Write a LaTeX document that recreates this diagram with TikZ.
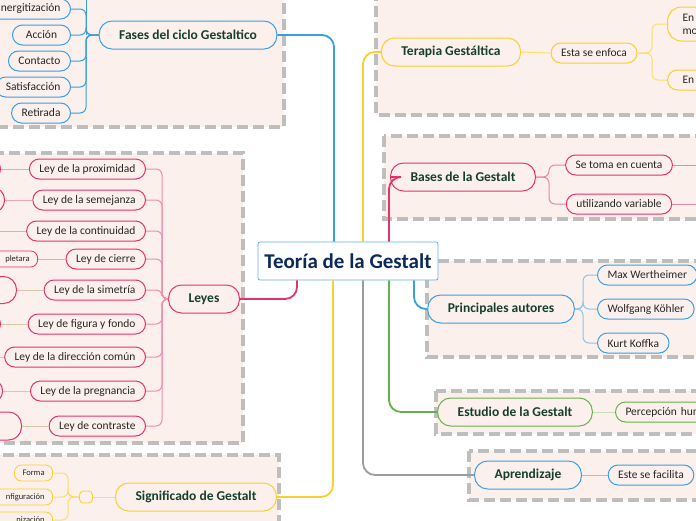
\documentclass[tikz,border=0pt]{standalone}
\usepackage{fontspec}
\setmainfont{Carlito}
\usetikzlibrary{positioning}
\definecolor{fondo}{HTML}{FCF0EC}
\definecolor{gris}{HTML}{BEBEBE}
\definecolor{azul}{HTML}{3A9EE4}
\definecolor{amarillo}{HTML}{F8D030}
\definecolor{rosa}{HTML}{E2336B}
\definecolor{beige}{HTML}{D9C6AB}
\definecolor{verde}{HTML}{67B04D}
\definecolor{grislinea}{HTML}{9C9C9C}
\definecolor{tinta}{HTML}{153F2C}
\definecolor{marino}{HTML}{0B2A57}
\tikzset{
  grupo/.style={draw=gris, fill=fondo, line width=3.5pt, dash pattern=on 11pt off 5pt},
  centro/.style={draw=azul!80, fill=white, rounded corners=2pt, line width=0.8pt, minimum width=180pt, minimum height=38pt, inner xsep=4pt, text=marino, font=\fontsize{21}{23}\selectfont\bfseries},
  tema/.style={draw=#1, fill=fondo, rounded corners=13pt, line width=1pt, minimum height=28pt, inner xsep=20pt, text=tinta, font=\fontsize{13.5}{15}\selectfont\bfseries},
  idea/.style={draw=#1, fill=fondo, rounded corners=10pt, line width=1pt, minimum height=20pt, inner xsep=10pt, inner ysep=2pt, text=black!85, font=\fontsize{11.5}{13}\selectfont},
  mini/.style={draw=#1, fill=fondo, rounded corners=7pt, line width=0.8pt, minimum height=16pt, inner xsep=8pt, inner ysep=1pt, text=black!85, font=\fontsize{8.5}{10}\selectfont},
  rama/.style={draw=#1, line width=1pt, rounded corners=6pt},
  tronco/.style={draw=#1, line width=1.8pt, rounded corners=12pt}
}
\begin{document}
\begin{tikzpicture}[x=1pt,y=-1pt]
\useasboundingbox (0,0) rectangle (696,520);
\clip (0,0) rectangle (696,520);
% marcos
\draw[grupo] (-10,-10) rectangle (284,127);
\draw[grupo] (376,-10) rectangle (710,115);
\draw[grupo] (384,136) rectangle (710,219);
\draw[grupo] (-10,153) rectangle (243,443);
\draw[grupo] (427,261) rectangle (710,357);
\draw[grupo] (436,391) rectangle (710,434);
\draw[grupo] (469,451) rectangle (710,500);
\draw[grupo] (-10,455) rectangle (279,530);
% centro
\node[centro] (teoria) at (348,261) {Teoría de la Gestalt};
% fases del ciclo
\node[tema=azul] (fases) at (188,35) {Fases del ciclo Gestaltico};
\node[idea=azul, anchor=east, text width=80pt, align=right] (energ) at (71,9) {nergitización};
\node[idea=azul, anchor=east, minimum width=58pt] (accion) at (71,35) {Acción};
\node[idea=azul, anchor=east, minimum width=58pt] (contacto) at (71,61) {Contacto};
\node[idea=azul, anchor=east, minimum width=58pt] (satisf) at (71,87) {Satisfacción};
\node[idea=azul, anchor=east, minimum width=58pt] (retirada) at (71,113) {Retirada};
\coordinate (fasesb) at (86,35);
\coordinate (fasesarriba) at (86,-10);
\draw[rama=azul] (fasesb) -- (fasesarriba);
\foreach \n in {energ,accion,contacto,satisf,retirada}
  \draw[rama=azul] (fases.west) -- (fasesb) |- (\n.east);
\draw[tronco=azul] (fases.east) -| ([xshift=-14pt]teoria.north);
% terapia
\node[tema=amarillo] (terapia) at (451,52) {Terapia Gestáltica};
\node[idea=amarillo] (enfoca) at (594,53) {Esta se enfoca};
\node[idea=amarillo, anchor=west, text width=60pt, align=left, inner xsep=15pt, minimum height=34pt, rounded corners=14pt] (enfocauno) at (667,24) {En\\mo};
\node[idea=amarillo, anchor=west, text width=60pt, align=left, inner xsep=15pt] (enfocados) at (667,80) {En l};
\coordinate (enfocab) at (652,53);
\draw[tronco=amarillo] ([xshift=15pt]teoria.north) |- (terapia.west);
\draw[rama=amarillo!70] (terapia.east) -- (enfoca.west);
\foreach \n in {enfocauno,enfocados}
  \draw[rama=amarillo!70] (enfoca.east) -- (enfocab) |- (\n.west);
% bases
\node[tema=rosa] (bases) at (463,177) {Bases de la Gestalt};
\node[idea=rosa] (cuenta) at (619,165) {Se toma en cuenta};
\node[idea=rosa] (variable) at (619,204) {utilizando variable};
\coordinate (basesb) at (549,177);
\coordinate (cuentafin) at (700,165);
\coordinate (variablefin) at (700,204);
\draw[tronco=rosa] ([xshift=41pt]teoria.north) |- (bases.west);
\foreach \n in {cuenta,variable}
  \draw[rama=rosa!60] (bases.east) -- (basesb) |- (\n.west);
\draw[rama=rosa!60] (cuenta.east) -- (cuentafin);
\draw[rama=rosa!60] (variable.east) -- (variablefin);
% leyes
\node[tema=rosa] (leyes) at (204,299) {Leyes};
\node[idea=rosa, anchor=east] (prox) at (146,169) {Ley de la proximidad};
\node[idea=rosa, anchor=east] (seme) at (146,200) {Ley de la semejanza};
\node[idea=rosa, anchor=east] (cont) at (146,231) {Ley de la continuidad};
\node[idea=rosa, anchor=east] (cierre) at (146,259) {Ley de cierre};
\node[idea=rosa, anchor=east] (sime) at (146,290) {Ley de la simetría};
\node[idea=rosa, anchor=east] (figura) at (146,324) {Ley de figura y fondo};
\node[idea=rosa, anchor=east] (direc) at (146,357) {Ley de la dirección común};
\node[idea=rosa, anchor=east] (pregn) at (146,391) {Ley de la pregnancia};
\node[idea=rosa, anchor=east] (contr) at (146,426) {Ley de contraste};
\node[idea=rosa, anchor=east, minimum width=60pt] (proxb) at (1,169) {};
\node[idea=rosa, anchor=east, minimum width=60pt, minimum height=25pt, rounded corners=12pt] (semeb) at (5,200) {};
\node[idea=rosa, anchor=east, minimum width=60pt] (contb) at (-2,231) {};
\node[mini=rosa, anchor=east, text width=40pt, align=right] (cierreb) at (38,259) {pletara};
\node[idea=rosa, anchor=east, minimum width=60pt, minimum height=27pt, rounded corners=13pt] (simeb) at (17,290) {};
\node[idea=rosa, anchor=east, minimum width=60pt] (figurab) at (1,324) {};
\node[idea=rosa, anchor=east, minimum width=60pt] (direcb) at (-2,357) {};
\node[idea=rosa, anchor=east, minimum width=60pt, minimum height=23pt, rounded corners=11pt] (pregnb) at (3,391) {};
\node[idea=rosa, anchor=east, minimum width=60pt, minimum height=28pt, rounded corners=13pt] (contrb) at (22,426) {};
\coordinate (leyesb) at (162,299);
\draw[tronco=rosa] ([xshift=-51pt]teoria.south) |- (leyes.east);
\foreach \n in {prox,seme,cont,cierre,sime,figura,direc,pregn,contr}
  \draw[rama=rosa!55] (leyes.west) -- (leyesb) |- (\n.east);
\foreach \n in {prox,seme,cont,cierre}
  \draw[rama=rosa!45] (\n.west) -- (\n b.east);
\foreach \n in {sime,figura,direc,pregn,contr}
  \draw[rama=beige] (\n.west) -- (\n b.east);
% significado
\node[tema=amarillo] (signif) at (196,497) {Significado de Gestalt};
\node[draw=amarillo, fill=fondo, line width=0.8pt, rounded corners=4pt, minimum width=13pt, minimum height=12pt, inner sep=0pt] (nudo) at (86,497) {};
\node[mini=amarillo, anchor=east] (forma) at (53,473) {Forma};
\node[mini=amarillo, anchor=east, text width=60pt, align=right] (config) at (53,497) {nfiguración};
\node[mini=amarillo, anchor=east, text width=60pt, align=right] (organiz) at (53,520) {nización};
\coordinate (nudob) at (68,497);
\draw[tronco=amarillo] ([xshift=-15pt]teoria.south) |- (signif.east);
\draw[rama=amarillo!70] (signif.west) -- (nudo.east);
\foreach \n in {forma,config,organiz}
  \draw[rama=amarillo!70] (nudo.west) -- (nudob) |- (\n.east);
% autores
\node[tema=azul] (autores) at (501,309) {Principales autores};
\node[idea=azul, anchor=west] (max) at (597,275) {Max Wertheimer};
\node[idea=azul, anchor=west] (wolf) at (597,309) {Wolfgang Köhler};
\node[idea=azul, anchor=west] (kurt) at (597,343) {Kurt Koffka};
\coordinate (autoresb) at (583,309);
\draw[tronco=azul] ([xshift=66pt]teoria.south) |- (autores.west);
\foreach \n in {max,wolf,kurt}
  \draw[rama=azul!60] (autores.east) -- (autoresb) |- (\n.west);
% estudio
\node[tema=verde] (estudio) at (515,412) {Estudio de la Gestalt};
\node[idea=verde, anchor=west, text width=90pt, align=left] (percep) at (615,412) {Percepción hum};
\draw[tronco=verde] ([xshift=41pt]teoria.south) |- (estudio.west);
\draw[rama=verde!40] (estudio.east) -- (percep.west);
% aprendizaje
\node[tema=azul] (aprend) at (528,475) {Aprendizaje};
\node[idea=azul] (facilita) at (651,475) {Este se facilita};
\draw[tronco=grislinea] ([xshift=15pt]teoria.south) |- (aprend.west);
\draw[rama=grislinea!70] (aprend.east) -- (facilita.west);
\end{tikzpicture}
\end{document}
